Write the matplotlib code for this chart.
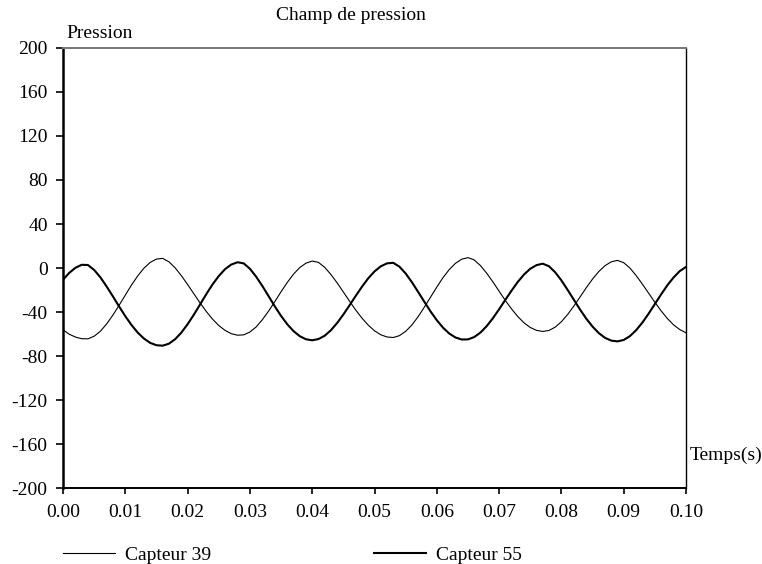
import numpy as np
import matplotlib
matplotlib.use("Agg")
import matplotlib.pyplot as plt
from matplotlib.ticker import FormatStrFormatter, MultipleLocator

plt.rcParams['font.family'] = ['Liberation Serif', 'DejaVu Serif']
plt.rcParams['font.size'] = 14
plt.rcParams['axes.unicode_minus'] = False

# time samples (s), one every millisecond
temps = np.arange(101) * 0.001

# Capteur 39 (thin line)
capteur_39 = [
    -56.0, -60.0, -62.6, -64.1, -64.2, -61.8, -57.3, -50.7, -42.7, -33.8,
    -24.5, -15.3, -7.0, 0.0, 5.2, 8.2, 8.8, 5.7, 0.2, -6.9,
    -14.9, -23.3, -31.6, -39.4, -46.3, -52.1, -56.5, -59.5, -60.9, -60.6,
    -58.0, -53.4, -46.8, -39.0, -30.4, -21.4, -13.0, -5.5, 0.5, 4.5,
    6.4, 5.2, 0.7, -5.8, -13.4, -21.7, -30.1, -38.2, -45.5, -51.8,
    -56.9, -60.5, -62.5, -63.0, -61.3, -57.4, -51.6, -44.1, -35.4, -26.3,
    -17.2, -8.6, -1.3, 4.4, 8.1, 9.5, 7.4, 2.3, -4.6, -12.5,
    -21.0, -29.4, -37.1, -44.0, -49.7, -53.9, -56.5, -57.5, -56.6, -53.6,
    -48.6, -42.1, -34.4, -26.1, -17.7, -9.9, -3.1, 2.2, 5.7, 7.0,
    4.9, 0.0, -6.8, -14.6, -22.8, -31.0, -38.8, -45.7, -51.5, -55.8,
    -58.7,
]

# Capteur 55 (thick line)
capteur_55 = [
    -10.6, -4.3, 0.3, 3.0, 2.8, -1.7, -8.4, -16.7, -25.6, -34.8,
    -43.7, -51.7, -58.6, -64.0, -67.9, -70.0, -70.4, -68.6, -64.5, -58.5,
    -50.9, -42.3, -33.0, -23.6, -14.8, -7.2, -1.0, 3.2, 5.3, 4.3,
    -0.6, -7.8, -16.3, -25.5, -34.8, -43.4, -51.0, -57.2, -61.8, -64.6,
    -65.5, -64.4, -61.4, -56.4, -49.8, -42.1, -33.7, -25.1, -16.8, -9.2,
    -3.0, 1.6, 4.3, 4.8, 1.3, -4.9, -12.8, -21.6, -30.6, -39.4,
    -47.3, -54.1, -59.4, -63.0, -64.8, -64.7, -62.6, -58.5, -52.7, -45.5,
    -37.3, -28.8, -20.4, -12.5, -5.8, -0.6, 2.7, 4.0, 1.7, -3.8,
    -11.2, -19.8, -28.8, -37.7, -46.0, -53.1, -59.0, -63.3, -65.8, -66.5,
    -65.2, -61.7, -56.3, -49.4, -41.3, -32.6, -23.9, -15.6, -8.5, -2.7,
    1.1,
]

fig = plt.figure(figsize=(7.62, 5.64), dpi=100)
ax = fig.add_axes([0.0827, 0.1339, 0.8176, 0.7815])

ax.plot(temps, capteur_39, color='black', lw=0.8, solid_joinstyle='round',
        label='Capteur 39')
ax.plot(temps, capteur_55, color='black', lw=1.5, solid_joinstyle='round',
        label='Capteur 55')

ax.set_xlim(0, 0.1)
ax.set_ylim(-200, 200)
ax.xaxis.set_major_locator(MultipleLocator(0.01))
ax.xaxis.set_major_formatter(FormatStrFormatter('%.2f'))
ax.yaxis.set_major_locator(MultipleLocator(40))

ax.tick_params(axis='x', direction='out', length=4, width=1.2, pad=7)
ax.tick_params(axis='y', direction='out', length=5, width=1.2, pad=6)
ax.tick_params(top=False, right=False)

ax.spines['left'].set_linewidth(1.8)
ax.spines['bottom'].set_linewidth(1.4)
ax.spines['right'].set_linewidth(1.0)
ax.spines['top'].set_linewidth(1.4)
ax.spines['top'].set_color('#777777')

fig.text(351 / 762, 1 - 19.5 / 564, 'Champ de pression', ha='center', va='baseline')
fig.text(66.7 / 762, 1 - 38 / 564, 'Pression', ha='left', va='baseline')
fig.text(690 / 762, 1 - 460 / 564, 'Temps(s)', ha='left', va='baseline')

ax.legend(loc='upper left', bbox_to_anchor=(63 / 762, 1 - 546 / 564),
          bbox_transform=fig.transFigure, ncol=2, frameon=False,
          borderpad=0, borderaxespad=0, handlelength=2.67,
          handletextpad=0.5, columnspacing=8.4)

fig.savefig('out.png', dpi=100)
